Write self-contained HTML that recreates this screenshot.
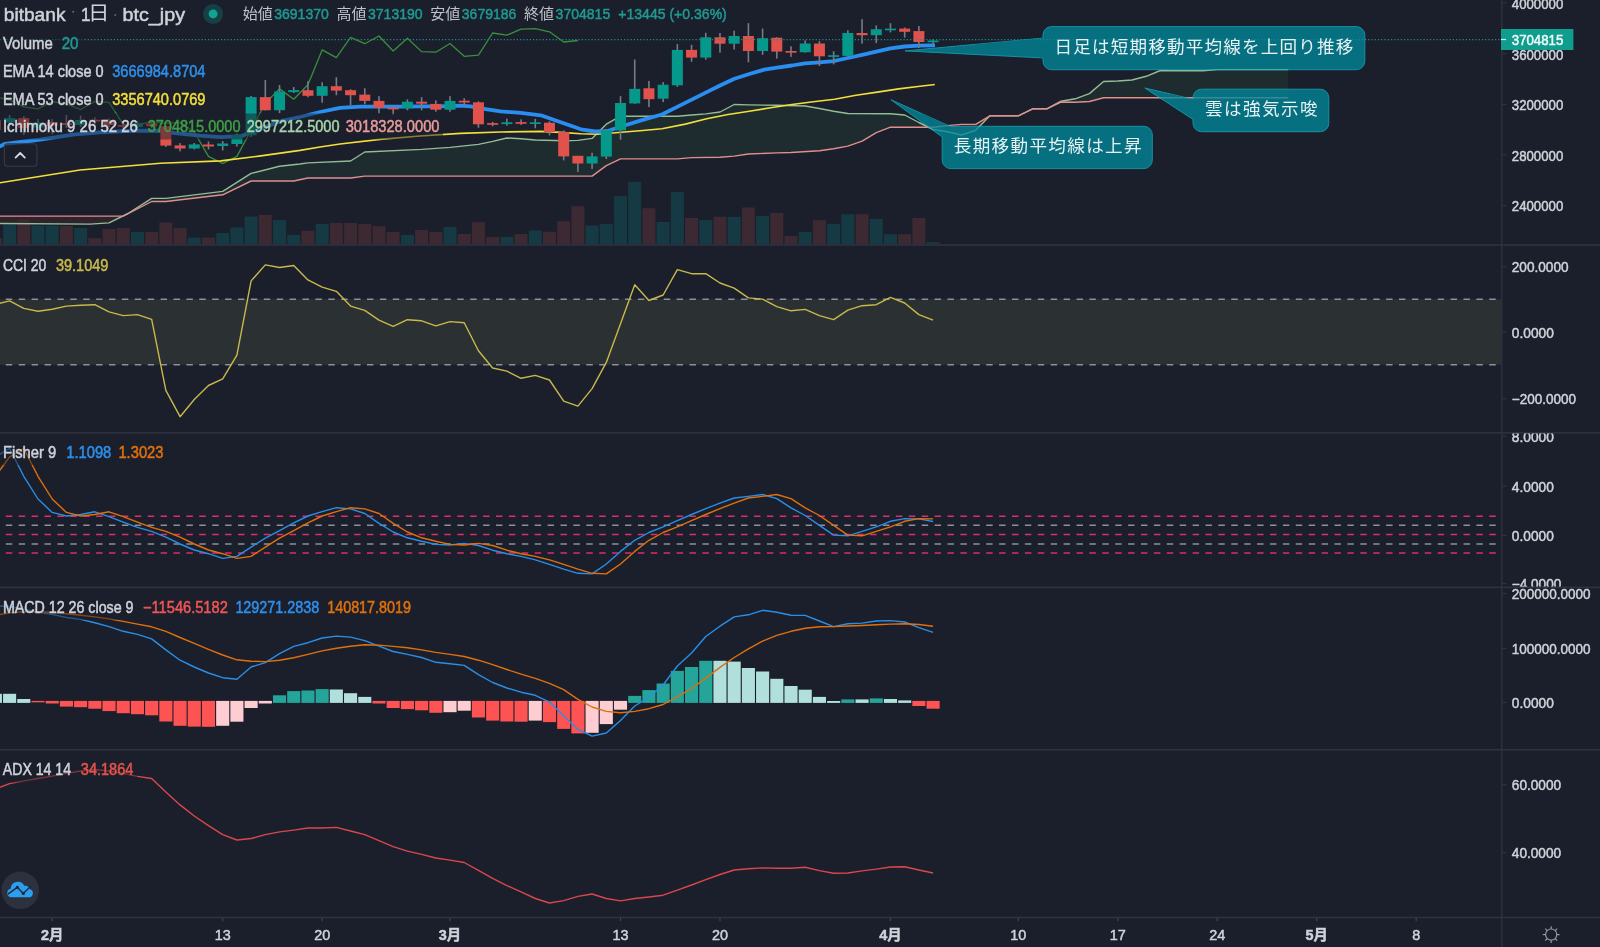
<!DOCTYPE html><html><head><meta charset="utf-8"><title>bitbank btc_jpy 1D</title>
<style>html,body{margin:0;padding:0;background:#1b1f2c;overflow:hidden}svg{display:block;will-change:transform}text{font-family:'Liberation Sans','Noto Sans CJK JP',sans-serif;white-space:pre}</style></head><body>
<svg width="1600" height="947" viewBox="0 0 1600 947">
<defs><clipPath id="cm"><rect x="0" y="0" width="1501" height="244.5"/></clipPath><clipPath id="cf"><rect x="1502" y="433.6" width="98" height="153"/></clipPath><clipPath id="cp"><rect x="0" y="0" width="1501" height="917"/></clipPath></defs>
<rect width="1600" height="947" fill="#1b1f2c"/>
<g clip-path="url(#cm)">
<path fill="#1e2b2f" d="M122.74 216.1L123.2 215.87L123.2 216.1L122.74 216.1ZM123.2 215.87L128 213.5L128 213.64L123.2 216.1ZM128 213.5L151.7 198.4L151.7 201.5L128 213.64ZM151.7 198.4L165.9 198.4L165.9 201.5L151.7 201.5ZM165.9 198.4L222.7 191.4L222.7 194.8L165.9 201.5ZM222.7 191.4L251.1 173.4L251.1 181L222.7 194.8ZM251.1 173.4L279.5 166.3L279.5 181L251.1 181ZM279.5 166.3L293.7 164.71L293.7 181L279.5 181ZM293.7 164.71L300 164L300 179.67L293.7 181ZM300 164L307.9 162.9L307.9 178L300 179.67ZM307.9 162.9L350.6 161L350.6 178L307.9 178ZM350.6 161L364.8 152L364.8 176.1L350.6 178ZM364.8 152L421.6 149.4L421.6 176.1L364.8 176.1ZM421.6 149.4L450 147.4L450 176.1L421.6 176.1ZM450 147.4L478.4 144.4L478.4 176.1L450 176.1ZM478.4 144.4L492.7 141.4L492.7 176.1L478.4 176.1ZM492.7 141.4L506.9 138L506.9 176.1L492.7 176.1ZM506.9 138L521.1 138.8L521.1 176.1L506.9 176.1ZM521.1 138.8L535.3 140L535.3 176.1L521.1 176.1ZM535.3 140L563.7 140.8L563.7 176.1L535.3 176.1ZM563.7 140.8L577.9 140.4L577.9 176.1L563.7 176.1ZM577.9 140.4L592.1 138.4L592.1 176.1L577.9 176.1ZM592.1 138.4L606.3 124.2L606.3 165.6L592.1 176.1ZM606.3 124.2L620.5 116.2L620.5 158.9L606.3 165.6ZM620.5 116.2L677.4 116.2L677.4 158.9L620.5 158.9ZM677.4 116.2L691.6 115L691.6 157.6L677.4 158.9ZM691.6 115L705.8 113.9L705.8 157.4L691.6 157.6ZM705.8 113.9L720 112L720 157.2L705.8 157.4ZM720 112L734.2 104.5L734.2 156.1L720 157.2ZM734.2 104.5L748.4 104.9L748.4 154L734.2 156.1ZM748.4 104.9L776.8 105.3L776.8 152.9L748.4 154ZM776.8 105.3L791 105.65L791 152.5L776.8 152.9ZM791 105.65L805.2 106L805.2 151.65L791 152.5ZM805.2 106L819.4 108.5L819.4 150.8L805.2 151.65ZM819.4 108.5L833.6 111.3L833.6 148.7L819.4 150.8ZM833.6 111.3L847.8 113.5L847.8 146.1L833.6 148.7ZM847.8 113.5L862.1 113.57L862.1 141.2L847.8 146.1ZM862.1 113.57L876.3 113.63L876.3 132.7L862.1 141.2ZM876.3 113.63L890.5 113.7L890.5 127.2L876.3 132.7ZM890.5 113.7L904.7 115L904.7 127.2L890.5 127.2ZM904.7 115L918.9 122.5L918.9 127.2L904.7 127.2ZM918.9 122.5L928.43 127.2L928.43 127.2L918.9 127.2ZM1046.8 108.8L1061 101.2L1061 102L1046.8 108.8ZM1061 101.2L1075.2 98.8L1075.2 102.3L1061 102ZM1075.2 98.8L1089.4 93.6L1089.4 101.5L1075.2 102.3ZM1089.4 93.6L1103.6 81.5L1103.6 97.7L1089.4 101.5ZM1103.6 81.5L1117.8 81L1117.8 97.7L1103.6 97.7ZM1117.8 81L1132 80L1132 97.7L1117.8 97.7ZM1132 80L1146.2 76.3L1146.2 97.7L1132 97.7ZM1146.2 76.3L1160.4 70.5L1160.4 97.7L1146.2 97.7ZM1160.4 70.5L1174.6 70.8L1174.6 97.7L1160.4 97.7ZM1174.6 70.8L1203.1 70.8L1203.1 97.7L1174.6 97.7ZM1203.1 70.8L1217.3 69.6L1217.3 97.7L1203.1 97.7ZM1217.3 69.6L1288.3 69.6L1288.3 97.7L1217.3 97.7Z"/>
<path fill="#30232d" d="M-5 223.5L0 223.5L0 216.1L-5 216.1ZM0 223.5L90 224.1L90 216.1L0 216.1ZM90 224.1L109 222.9L109 216.1L90 216.1ZM109 222.9L122.74 216.1L122.74 216.1L109 216.1ZM928.43 127.2L933.1 129.5L933.1 127.2L928.43 127.2ZM933.1 129.5L947.3 131.7L947.3 125.6L933.1 127.2ZM947.3 131.7L961.5 135L961.5 124.4L947.3 125.6ZM961.5 135L975.7 130.3L975.7 124.4L961.5 124.4ZM975.7 130.3L989.9 115.8L989.9 115.8L975.7 124.4ZM989.9 115.8L1018.3 115.8L1018.3 115.8L989.9 115.8ZM1018.3 115.8L1032.6 108.8L1032.6 108.8L1018.3 115.8ZM1032.6 108.8L1046.8 108.8L1046.8 108.8L1032.6 108.8Z"/>
<rect x="-11.13" y="238" width="13" height="6.3" fill="#3d2932"/>
<rect x="3.08" y="224.5" width="13" height="19.8" fill="#163a43"/>
<rect x="17.28" y="219.5" width="13" height="24.8" fill="#3d2932"/>
<rect x="31.49" y="225.5" width="13" height="18.8" fill="#163a43"/>
<rect x="45.7" y="225.5" width="13" height="18.8" fill="#163a43"/>
<rect x="59.91" y="226" width="13" height="18.3" fill="#3d2932"/>
<rect x="74.12" y="228" width="13" height="16.3" fill="#163a43"/>
<rect x="88.32" y="238.2" width="13" height="6.1" fill="#3d2932"/>
<rect x="102.53" y="229" width="13" height="15.3" fill="#3d2932"/>
<rect x="116.74" y="228" width="13" height="16.3" fill="#3d2932"/>
<rect x="130.95" y="232" width="13" height="12.3" fill="#163a43"/>
<rect x="145.16" y="232" width="13" height="12.3" fill="#3d2932"/>
<rect x="159.36" y="222.5" width="13" height="21.8" fill="#3d2932"/>
<rect x="173.57" y="228" width="13" height="16.3" fill="#3d2932"/>
<rect x="187.78" y="237.6" width="13" height="6.7" fill="#163a43"/>
<rect x="201.99" y="237.6" width="13" height="6.7" fill="#3d2932"/>
<rect x="216.2" y="233" width="13" height="11.3" fill="#163a43"/>
<rect x="230.4" y="227.5" width="13" height="16.8" fill="#163a43"/>
<rect x="244.61" y="216.5" width="13" height="27.8" fill="#163a43"/>
<rect x="258.82" y="214.9" width="13" height="29.4" fill="#3d2932"/>
<rect x="273.03" y="220" width="13" height="24.3" fill="#163a43"/>
<rect x="287.24" y="235" width="13" height="9.3" fill="#163a43"/>
<rect x="301.44" y="230.8" width="13" height="13.5" fill="#3d2932"/>
<rect x="315.65" y="224" width="13" height="20.3" fill="#163a43"/>
<rect x="329.86" y="223" width="13" height="21.3" fill="#3d2932"/>
<rect x="344.07" y="223" width="13" height="21.3" fill="#3d2932"/>
<rect x="358.28" y="224" width="13" height="20.3" fill="#3d2932"/>
<rect x="372.48" y="226.2" width="13" height="18.1" fill="#3d2932"/>
<rect x="386.69" y="232" width="13" height="12.3" fill="#3d2932"/>
<rect x="400.9" y="235" width="13" height="9.3" fill="#163a43"/>
<rect x="415.11" y="230" width="13" height="14.3" fill="#3d2932"/>
<rect x="429.32" y="232" width="13" height="12.3" fill="#3d2932"/>
<rect x="443.52" y="227" width="13" height="17.3" fill="#163a43"/>
<rect x="457.73" y="234" width="13" height="10.3" fill="#3d2932"/>
<rect x="471.94" y="222.2" width="13" height="22.1" fill="#3d2932"/>
<rect x="486.15" y="237" width="13" height="7.3" fill="#3d2932"/>
<rect x="500.36" y="236.8" width="13" height="7.5" fill="#163a43"/>
<rect x="514.56" y="234" width="13" height="10.3" fill="#3d2932"/>
<rect x="528.77" y="230.5" width="13" height="13.8" fill="#163a43"/>
<rect x="542.98" y="231.8" width="13" height="12.5" fill="#3d2932"/>
<rect x="557.19" y="221.2" width="13" height="23.1" fill="#3d2932"/>
<rect x="571.4" y="206.2" width="13" height="38.1" fill="#3d2932"/>
<rect x="585.6" y="225.5" width="13" height="18.8" fill="#163a43"/>
<rect x="599.81" y="223.8" width="13" height="20.5" fill="#163a43"/>
<rect x="614.02" y="196" width="13" height="48.3" fill="#163a43"/>
<rect x="628.23" y="181.8" width="13" height="62.5" fill="#163a43"/>
<rect x="642.44" y="208.2" width="13" height="36.1" fill="#3d2932"/>
<rect x="656.64" y="222" width="13" height="22.3" fill="#163a43"/>
<rect x="670.85" y="192" width="13" height="52.3" fill="#163a43"/>
<rect x="685.06" y="218" width="13" height="26.3" fill="#3d2932"/>
<rect x="699.27" y="220" width="13" height="24.3" fill="#163a43"/>
<rect x="713.48" y="216.8" width="13" height="27.5" fill="#3d2932"/>
<rect x="727.68" y="216.8" width="13" height="27.5" fill="#163a43"/>
<rect x="741.89" y="207.5" width="13" height="36.8" fill="#3d2932"/>
<rect x="756.1" y="215.8" width="13" height="28.5" fill="#163a43"/>
<rect x="770.31" y="213" width="13" height="31.3" fill="#3d2932"/>
<rect x="784.52" y="236" width="13" height="8.3" fill="#3d2932"/>
<rect x="798.72" y="232" width="13" height="12.3" fill="#163a43"/>
<rect x="812.93" y="220.2" width="13" height="24.1" fill="#3d2932"/>
<rect x="827.14" y="223.8" width="13" height="20.5" fill="#163a43"/>
<rect x="841.35" y="214.2" width="13" height="30.1" fill="#163a43"/>
<rect x="855.56" y="214.2" width="13" height="30.1" fill="#3d2932"/>
<rect x="869.76" y="219" width="13" height="25.3" fill="#163a43"/>
<rect x="883.97" y="234.2" width="13" height="10.1" fill="#163a43"/>
<rect x="898.18" y="234.2" width="13" height="10.1" fill="#3d2932"/>
<rect x="912.39" y="218" width="13" height="26.3" fill="#3d2932"/>
<rect x="926.6" y="242.2" width="13" height="2.1" fill="#163a43"/>
<polyline fill="none" stroke="#93bd95" stroke-width="1.4" stroke-linejoin="round" points="-5,223.5 0,223.5 90,224.1 109,222.9 128,213.5 151.7,198.4 165.9,198.4 222.7,191.4 251.1,173.4 279.5,166.3 300,164 307.9,162.9 350.6,161 364.8,152 421.6,149.4 450,147.4 478.4,144.4 492.7,141.4 506.9,138 521.1,138.8 535.3,140 563.7,140.8 577.9,140.4 592.1,138.4 606.3,124.2 620.5,116.2 677.4,116.2 691.6,115 705.8,113.9 720,112 734.2,104.5 748.4,104.9 776.8,105.3 805.2,106 819.4,108.5 833.6,111.3 847.8,113.5 890.5,113.7 904.7,115 918.9,122.5 933.1,129.5 947.3,131.7 961.5,135 975.7,130.3 989.9,115.8 1018.3,115.8 1032.6,108.8 1046.8,108.8 1061,101.2 1075.2,98.8 1089.4,93.6 1103.6,81.5 1117.8,81 1132,80 1146.2,76.3 1160.4,70.5 1174.6,70.8 1203.1,70.8 1217.3,69.6 1288.3,69.6"/>
<polyline fill="none" stroke="#e08e8e" stroke-width="1.4" stroke-linejoin="round" points="-5,216.1 0,216.1 123.2,216.1 151.7,201.5 165.9,201.5 222.7,194.8 251.1,181 293.7,181 307.9,178 350.6,178 364.8,176.1 592.1,176.1 606.3,165.6 620.5,158.9 677.4,158.9 691.6,157.6 720,157.2 734.2,156.1 748.4,154 776.8,152.9 791,152.5 819.4,150.8 833.6,148.7 847.8,146.1 862.1,141.2 876.3,132.7 890.5,127.2 933.1,127.2 947.3,125.6 961.5,124.4 975.7,124.4 989.9,115.8 1018.3,115.8 1032.6,108.8 1046.8,108.8 1061,102 1075.2,102.3 1089.4,101.5 1103.6,97.7 1288.3,97.7"/>
<polyline fill="none" stroke="#3a8f3e" stroke-width="1.3" stroke-linejoin="round" points="-18.84,93.5 -4.63,96.8 9.58,100 23.78,106.8 37.99,108.8 52.2,101.5 66.41,104 80.62,109.5 94.82,101.5 109.03,102.3 123.24,124.3 137.45,124.1 151.66,122.3 165.86,123.3 180.07,122.3 194.28,132 208.49,156.4 222.7,163.5 236.9,156.4 251.11,130.2 265.32,103 279.53,88.9 293.74,99.2 307.94,84.7 322.15,49.9 336.36,57.6 350.57,37.3 364.78,43.7 378.98,36 393.19,51 407.4,38.2 421.61,51.6 435.82,52.2 450.02,43.5 464.23,56.3 478.44,55.2 492.65,33 506.86,35.2 521.06,29.2 535.27,28.6 549.48,31.8 563.69,42 577.9,40.5"/>
<polyline fill="none" stroke="#f3df3a" stroke-width="1.6" stroke-linejoin="round" points="-5,183.6 0,182.8 80,170 160.5,163.3 220.7,160.9 260.8,155.9 300,150.4 320,147 340,144 380,139.4 420,136 460.5,133.4 500.6,132 540.8,131.4 560.8,132.4 580.9,133.8 597,134.2 610,133.3 621.3,132.2 642.7,130.5 661.9,128.8 685.3,124.1 706.7,118.8 728,114.5 749.3,111.3 770.6,107.7 792,104.5 813.3,101.7 834.6,99.2 856,95.3 877.3,92.1 898.6,88.9 920,86.2 933.1,84.7 934.8,84.5"/>
<polyline fill="none" stroke="#2a8ef0" stroke-width="3.8" stroke-linejoin="round" stroke-linecap="butt" points="-5,147.5 0,146.3 5,143.8 25,141.5 40,139.7 50,138.1 75,134.4 100,132.3 125,131 150,130.6 162,131 175,133.1 200,135.6 221,137.2 241,136.2 261,128.2 281,121.2 300,117 320,112 340,107.9 360,106.7 380,106.7 400,106.7 420,106.3 440,106.3 460.5,105.7 470.5,106.3 480.6,108.3 500.6,111.3 520.7,112.9 540.8,115.3 560.8,122.3 580.9,129.3 595,131.5 607,131.2 621.3,126.5 642.7,119.9 661.9,114.5 674.7,108.1 691.7,99.6 706.7,92.1 719.5,85.7 734.4,78.7 749.3,74 764.2,69.7 777,67.6 792,65.5 804.8,63.3 819.7,62.3 833.6,61.2 847.9,58 862.2,54.8 876.2,51.6 890.5,48.4 904.6,46.5 918.9,45.7 933.1,45.4 935,45.4"/>
<rect x="-5.43" y="118" width="1.6" height="14" fill="#787b86"/>
<rect x="-10.13" y="120" width="11" height="10" fill="#e0524b"/>
<rect x="8.78" y="115" width="1.6" height="11" fill="#787b86"/>
<rect x="4.08" y="118.1" width="11" height="4.4" fill="#05998b"/>
<rect x="22.98" y="116" width="1.6" height="19" fill="#787b86"/>
<rect x="18.28" y="118.1" width="11" height="10" fill="#e0524b"/>
<rect x="37.19" y="119" width="1.6" height="11" fill="#787b86"/>
<rect x="32.49" y="122.5" width="11" height="5" fill="#05998b"/>
<rect x="51.4" y="119" width="1.6" height="15.4" fill="#787b86"/>
<rect x="46.7" y="122" width="11" height="4" fill="#e0524b"/>
<rect x="65.61" y="115" width="1.6" height="13" fill="#787b86"/>
<rect x="60.91" y="123" width="11" height="2" fill="#e0524b"/>
<rect x="79.82" y="115.6" width="1.6" height="11.4" fill="#787b86"/>
<rect x="75.12" y="120" width="11" height="5" fill="#05998b"/>
<rect x="94.02" y="117.3" width="1.6" height="6.7" fill="#787b86"/>
<rect x="89.32" y="119.7" width="11" height="1.8" fill="#e0524b"/>
<rect x="108.23" y="118.5" width="1.6" height="8.5" fill="#787b86"/>
<rect x="103.53" y="121.3" width="11" height="3.7" fill="#e0524b"/>
<rect x="122.44" y="122" width="1.6" height="7" fill="#787b86"/>
<rect x="117.74" y="125" width="11" height="1.7" fill="#e0524b"/>
<rect x="136.65" y="121" width="1.6" height="7.5" fill="#787b86"/>
<rect x="131.95" y="123.7" width="11" height="3.2" fill="#05998b"/>
<rect x="150.86" y="122" width="1.6" height="6" fill="#787b86"/>
<rect x="146.16" y="123.7" width="11" height="2.6" fill="#e0524b"/>
<rect x="165.06" y="125" width="1.6" height="21.9" fill="#787b86"/>
<rect x="160.36" y="126.3" width="11" height="19.3" fill="#e0524b"/>
<rect x="179.27" y="143.1" width="1.6" height="8.2" fill="#787b86"/>
<rect x="174.57" y="145.4" width="11" height="3.1" fill="#e0524b"/>
<rect x="193.48" y="143" width="1.6" height="6.4" fill="#787b86"/>
<rect x="188.78" y="144.4" width="11" height="4.1" fill="#05998b"/>
<rect x="207.69" y="141.5" width="1.6" height="8" fill="#787b86"/>
<rect x="202.99" y="144.5" width="11" height="2" fill="#e0524b"/>
<rect x="221.9" y="141" width="1.6" height="9.5" fill="#787b86"/>
<rect x="217.2" y="143.5" width="11" height="2.5" fill="#05998b"/>
<rect x="236.1" y="133.5" width="1.6" height="13" fill="#787b86"/>
<rect x="231.4" y="135" width="11" height="9" fill="#05998b"/>
<rect x="250.31" y="96" width="1.6" height="41" fill="#787b86"/>
<rect x="245.61" y="97.1" width="11" height="38.1" fill="#05998b"/>
<rect x="264.52" y="80" width="1.6" height="30.5" fill="#787b86"/>
<rect x="259.82" y="97.1" width="11" height="13.1" fill="#e0524b"/>
<rect x="278.73" y="85" width="1.6" height="28.2" fill="#787b86"/>
<rect x="274.03" y="91.5" width="11" height="18.7" fill="#05998b"/>
<rect x="292.94" y="87" width="1.6" height="6" fill="#787b86"/>
<rect x="288.24" y="90.1" width="11" height="2" fill="#05998b"/>
<rect x="307.14" y="81.2" width="1.6" height="16" fill="#787b86"/>
<rect x="302.44" y="90.2" width="11" height="5.6" fill="#e0524b"/>
<rect x="321.35" y="82.2" width="1.6" height="20.5" fill="#787b86"/>
<rect x="316.65" y="86.2" width="11" height="9.6" fill="#05998b"/>
<rect x="335.56" y="77.2" width="1.6" height="18" fill="#787b86"/>
<rect x="330.86" y="86.2" width="11" height="4.4" fill="#e0524b"/>
<rect x="349.77" y="89.2" width="1.6" height="16.1" fill="#787b86"/>
<rect x="345.07" y="90.2" width="11" height="5" fill="#e0524b"/>
<rect x="363.98" y="88.2" width="1.6" height="16.1" fill="#787b86"/>
<rect x="359.28" y="94.6" width="11" height="6.3" fill="#e0524b"/>
<rect x="378.18" y="96.2" width="1.6" height="17.1" fill="#787b86"/>
<rect x="373.48" y="100.9" width="11" height="6.8" fill="#e0524b"/>
<rect x="392.39" y="106.3" width="1.6" height="8.4" fill="#787b86"/>
<rect x="387.69" y="107.7" width="11" height="1.7" fill="#e0524b"/>
<rect x="406.6" y="99.3" width="1.6" height="11" fill="#787b86"/>
<rect x="401.9" y="101.7" width="11" height="6.6" fill="#05998b"/>
<rect x="420.81" y="97.2" width="1.6" height="13.1" fill="#787b86"/>
<rect x="416.11" y="101.7" width="11" height="2" fill="#e0524b"/>
<rect x="435.02" y="100.3" width="1.6" height="11.4" fill="#787b86"/>
<rect x="430.32" y="103.9" width="11" height="5.8" fill="#e0524b"/>
<rect x="449.22" y="96.2" width="1.6" height="15.5" fill="#787b86"/>
<rect x="444.52" y="100.9" width="11" height="8.8" fill="#05998b"/>
<rect x="463.43" y="98.2" width="1.6" height="8.5" fill="#787b86"/>
<rect x="458.73" y="100.7" width="11" height="1.8" fill="#e0524b"/>
<rect x="477.64" y="101.3" width="1.6" height="26.4" fill="#787b86"/>
<rect x="472.94" y="102.3" width="11" height="22" fill="#e0524b"/>
<rect x="491.85" y="121.9" width="1.6" height="4.4" fill="#787b86"/>
<rect x="487.15" y="123.1" width="11" height="1.7" fill="#e0524b"/>
<rect x="506.06" y="118.7" width="1.6" height="7" fill="#787b86"/>
<rect x="501.36" y="122.3" width="11" height="1.8" fill="#05998b"/>
<rect x="520.26" y="119.3" width="1.6" height="5.6" fill="#787b86"/>
<rect x="515.56" y="122.1" width="11" height="1.7" fill="#e0524b"/>
<rect x="534.47" y="118.9" width="1.6" height="9.4" fill="#787b86"/>
<rect x="529.77" y="122.3" width="11" height="1.7" fill="#05998b"/>
<rect x="548.68" y="121.3" width="1.6" height="14.1" fill="#787b86"/>
<rect x="543.98" y="122.7" width="11" height="9.3" fill="#e0524b"/>
<rect x="562.89" y="130.4" width="1.6" height="30" fill="#787b86"/>
<rect x="558.19" y="132" width="11" height="24.4" fill="#e0524b"/>
<rect x="577.1" y="155.8" width="1.6" height="16.1" fill="#787b86"/>
<rect x="572.4" y="155.8" width="11" height="7.7" fill="#e0524b"/>
<rect x="591.3" y="152.8" width="1.6" height="16.1" fill="#787b86"/>
<rect x="586.6" y="156.4" width="11" height="7.1" fill="#05998b"/>
<rect x="605.51" y="129" width="1.6" height="30" fill="#787b86"/>
<rect x="600.81" y="130.2" width="11" height="26.4" fill="#05998b"/>
<rect x="619.72" y="96.1" width="1.6" height="43.6" fill="#787b86"/>
<rect x="615.02" y="103" width="11" height="27.4" fill="#05998b"/>
<rect x="633.93" y="59.5" width="1.6" height="44.4" fill="#787b86"/>
<rect x="629.23" y="88.9" width="11" height="14.5" fill="#05998b"/>
<rect x="648.14" y="81" width="1.6" height="26.1" fill="#787b86"/>
<rect x="643.44" y="88.3" width="11" height="10.9" fill="#e0524b"/>
<rect x="662.34" y="82.1" width="1.6" height="20" fill="#787b86"/>
<rect x="657.64" y="84.7" width="11" height="14" fill="#05998b"/>
<rect x="676.55" y="44.1" width="1.6" height="42.7" fill="#787b86"/>
<rect x="671.85" y="49.9" width="11" height="35.4" fill="#05998b"/>
<rect x="690.76" y="44.8" width="1.6" height="17" fill="#787b86"/>
<rect x="686.06" y="49.9" width="11" height="7.7" fill="#e0524b"/>
<rect x="704.97" y="32.8" width="1.6" height="26.9" fill="#787b86"/>
<rect x="700.27" y="37.3" width="11" height="20.3" fill="#05998b"/>
<rect x="719.18" y="33" width="1.6" height="19.7" fill="#787b86"/>
<rect x="714.48" y="37.3" width="11" height="6.4" fill="#e0524b"/>
<rect x="733.38" y="30.7" width="1.6" height="18.8" fill="#787b86"/>
<rect x="728.68" y="36" width="11" height="7.7" fill="#05998b"/>
<rect x="747.59" y="23.2" width="1.6" height="39.1" fill="#787b86"/>
<rect x="742.89" y="36" width="11" height="15" fill="#e0524b"/>
<rect x="761.8" y="28.6" width="1.6" height="26.2" fill="#787b86"/>
<rect x="757.1" y="38.2" width="11" height="12.8" fill="#05998b"/>
<rect x="776.01" y="37.3" width="1.6" height="21.3" fill="#787b86"/>
<rect x="771.31" y="37.7" width="11" height="13.9" fill="#e0524b"/>
<rect x="790.22" y="46.3" width="1.6" height="10.6" fill="#787b86"/>
<rect x="785.52" y="51" width="11" height="1.7" fill="#e0524b"/>
<rect x="804.42" y="40.5" width="1.6" height="12.2" fill="#787b86"/>
<rect x="799.72" y="43.5" width="11" height="8.7" fill="#05998b"/>
<rect x="818.63" y="40.9" width="1.6" height="25" fill="#787b86"/>
<rect x="813.93" y="43.5" width="11" height="12.8" fill="#e0524b"/>
<rect x="832.84" y="51.2" width="1.6" height="13.2" fill="#787b86"/>
<rect x="828.14" y="55.2" width="11" height="1.7" fill="#05998b"/>
<rect x="847.05" y="30.3" width="1.6" height="26.2" fill="#787b86"/>
<rect x="842.35" y="33" width="11" height="22.9" fill="#05998b"/>
<rect x="861.26" y="19.2" width="1.6" height="24.5" fill="#787b86"/>
<rect x="856.56" y="33" width="11" height="2.2" fill="#e0524b"/>
<rect x="875.46" y="25.4" width="1.6" height="17.7" fill="#787b86"/>
<rect x="870.76" y="29.2" width="11" height="6" fill="#05998b"/>
<rect x="889.67" y="23.2" width="1.6" height="9.2" fill="#787b86"/>
<rect x="884.97" y="28.6" width="11" height="1.7" fill="#05998b"/>
<rect x="903.88" y="27.5" width="1.6" height="10.2" fill="#787b86"/>
<rect x="899.18" y="28.6" width="11" height="3.2" fill="#e0524b"/>
<rect x="918.09" y="26" width="1.6" height="22" fill="#787b86"/>
<rect x="913.39" y="31.1" width="11" height="10.9" fill="#e0524b"/>
<rect x="932.3" y="39.4" width="1.6" height="4.3" fill="#787b86"/>
<rect x="927.6" y="40.5" width="11" height="1.7" fill="#05998b"/>
<line x1="0" y1="39.6" x2="1501" y2="39.6" stroke="#1f9087" stroke-width="1.1" stroke-dasharray="1.2 2.05"/>
</g>
<rect x="0" y="299.2" width="1501" height="65.6" fill="#2b3032"/>
<line x1="-7.1" y1="299.2" x2="1501" y2="299.2" stroke="#8d9099" stroke-width="1.5" stroke-dasharray="6.45 6.45"/>
<line x1="-7.1" y1="364.8" x2="1501" y2="364.8" stroke="#8d9099" stroke-width="1.5" stroke-dasharray="6.45 6.45"/>
<polyline fill="none" stroke="#c8b94b" stroke-width="1.4" stroke-linejoin="round" points="-4.63,304.5 9.58,300.9 23.78,308.4 37.99,311.3 52.2,309.2 66.41,306.1 80.62,305.3 94.82,304.7 109.03,311.9 123.24,315.6 137.45,314.6 151.66,319.3 165.86,390.3 180.07,416.7 194.28,399.5 208.49,385.5 222.7,378.9 236.9,355.2 251.11,280.9 265.32,264.9 279.53,267.5 293.74,265.5 307.94,279.9 322.15,287.1 336.36,291.3 350.57,306.1 364.78,310.4 378.98,320.1 393.19,326.3 407.4,319.7 421.61,320.8 435.82,325.9 450.02,321.6 464.23,322.8 478.44,350.7 492.65,368 506.86,371.1 521.06,378.3 535.27,375.4 549.48,380 563.69,401.2 577.9,406.1 592.1,388.6 606.31,362.4 620.52,323.8 634.73,284.7 648.94,300.5 663.14,295 677.35,269.6 691.56,273.7 705.77,273.7 719.98,283 734.18,288.2 748.39,297.9 762.6,299.1 776.81,306.7 791.02,310.8 805.22,309.4 819.43,315.6 833.64,319.7 847.85,310.2 862.06,305.7 876.26,304.7 890.47,297.4 904.68,303 918.89,314.6 933.1,320.1"/>
<line x1="-7.1" y1="516.2" x2="1501" y2="516.2" stroke="#dc2e69" stroke-width="1.5" stroke-dasharray="6.45 6.45"/>
<line x1="-7.1" y1="525.3" x2="1501" y2="525.3" stroke="#8d9099" stroke-width="1.5" stroke-dasharray="6.45 6.45"/>
<line x1="-7.1" y1="534.6" x2="1501" y2="534.6" stroke="#dc2e69" stroke-width="1.5" stroke-dasharray="6.45 6.45"/>
<line x1="-7.1" y1="543.9" x2="1501" y2="543.9" stroke="#8d9099" stroke-width="1.5" stroke-dasharray="6.45 6.45"/>
<line x1="-7.1" y1="553.1" x2="1501" y2="553.1" stroke="#dc2e69" stroke-width="1.5" stroke-dasharray="6.45 6.45"/>
<polyline fill="none" stroke="#2a8ee6" stroke-width="1.4" stroke-linejoin="round" points="-4.63,456.8 9.58,448.5 23.78,476.3 37.99,499 52.2,512.4 66.41,516 80.62,514.5 94.82,511.8 109.03,516.6 123.24,522.1 137.45,527.3 151.66,531.4 165.86,537.2 180.07,544 194.28,550 208.49,553.7 222.7,558.4 236.9,556.4 251.11,547.1 265.32,538.2 279.53,530.6 293.74,522.8 307.94,516 322.15,511.7 336.36,507.7 350.57,508.9 364.78,513.5 378.98,523.4 393.19,532 407.4,537.8 421.61,541.3 435.82,544.4 450.02,545 464.23,543.4 478.44,545.5 492.65,550.2 506.86,553.7 521.06,556.4 535.27,559.9 549.48,564.4 563.69,569.2 577.9,573.3 592.1,573.9 606.31,564 620.52,551.4 634.73,540.3 648.94,532.5 663.14,526.9 677.35,520.7 691.56,514.5 705.77,508.7 719.98,503.2 734.18,498 748.39,496.4 762.6,494.5 776.81,498.6 791.02,507.9 805.22,515.5 819.43,525.4 833.64,535.1 847.85,535.8 862.06,531.4 876.26,526.9 890.47,521.3 904.68,518.6 918.89,518.9 933.1,521.5"/>
<polyline fill="none" stroke="#e0700d" stroke-width="1.4" stroke-linejoin="round" points="-4.63,476.3 9.58,456.8 23.78,448.5 37.99,476.3 52.2,499 66.41,512.4 80.62,516 94.82,514.5 109.03,511.8 123.24,516.6 137.45,522.1 151.66,527.3 165.86,531.4 180.07,537.2 194.28,544 208.49,550 222.7,553.7 236.9,558.4 251.11,556.4 265.32,547.1 279.53,538.2 293.74,530.6 307.94,522.8 322.15,516 336.36,511.7 350.57,507.7 364.78,508.9 378.98,513.5 393.19,523.4 407.4,532 421.61,537.8 435.82,541.3 450.02,544.4 464.23,545 478.44,543.4 492.65,545.5 506.86,550.2 521.06,553.7 535.27,556.4 549.48,559.9 563.69,564.4 577.9,569.2 592.1,573.3 606.31,573.9 620.52,564 634.73,551.4 648.94,540.3 663.14,532.5 677.35,526.9 691.56,520.7 705.77,514.5 719.98,508.7 734.18,503.2 748.39,498 762.6,496.4 776.81,494.5 791.02,498.6 805.22,507.9 819.43,515.5 833.64,525.4 847.85,535.1 862.06,535.8 876.26,531.4 890.47,526.9 904.68,521.3 918.89,518.6 933.1,518.9"/>
<rect x="-11.18" y="693.8" width="13.1" height="9.1" fill="#b1dfdb"/>
<rect x="3.03" y="693.8" width="13.1" height="9.1" fill="#b1dfdb"/>
<rect x="17.23" y="699" width="13.1" height="3.9" fill="#b1dfdb"/>
<rect x="31.44" y="700.9" width="13.1" height="1.4" fill="#fd5353"/>
<rect x="45.65" y="700.9" width="13.1" height="2.6" fill="#fd5353"/>
<rect x="59.86" y="700.9" width="13.1" height="5.7" fill="#fd5353"/>
<rect x="74.07" y="700.9" width="13.1" height="6.3" fill="#fd5353"/>
<rect x="88.27" y="700.9" width="13.1" height="7.8" fill="#fd5353"/>
<rect x="102.48" y="700.9" width="13.1" height="10.2" fill="#fd5353"/>
<rect x="116.69" y="700.9" width="13.1" height="12.3" fill="#fd5353"/>
<rect x="130.9" y="700.9" width="13.1" height="13.3" fill="#fd5353"/>
<rect x="145.11" y="700.9" width="13.1" height="14.4" fill="#fd5353"/>
<rect x="159.31" y="700.9" width="13.1" height="20.6" fill="#fd5353"/>
<rect x="173.52" y="700.9" width="13.1" height="24.9" fill="#fd5353"/>
<rect x="187.73" y="700.9" width="13.1" height="25.7" fill="#fd5353"/>
<rect x="201.94" y="700.9" width="13.1" height="25.9" fill="#fd5353"/>
<rect x="216.15" y="700.9" width="13.1" height="24.9" fill="#fdcdd2"/>
<rect x="230.35" y="700.9" width="13.1" height="20.8" fill="#fdcdd2"/>
<rect x="244.56" y="700.9" width="13.1" height="7.1" fill="#fdcdd2"/>
<rect x="258.77" y="700.9" width="13.1" height="2.6" fill="#fdcdd2"/>
<rect x="272.98" y="695.3" width="13.1" height="7.6" fill="#25a499"/>
<rect x="287.19" y="691.1" width="13.1" height="11.8" fill="#25a499"/>
<rect x="301.39" y="690.5" width="13.1" height="12.4" fill="#25a499"/>
<rect x="315.6" y="689.1" width="13.1" height="13.8" fill="#25a499"/>
<rect x="329.81" y="689.5" width="13.1" height="13.4" fill="#b1dfdb"/>
<rect x="344.02" y="693.2" width="13.1" height="9.7" fill="#b1dfdb"/>
<rect x="358.23" y="696.9" width="13.1" height="6" fill="#b1dfdb"/>
<rect x="372.43" y="700.9" width="13.1" height="2.6" fill="#fd5353"/>
<rect x="386.64" y="700.9" width="13.1" height="7.1" fill="#fd5353"/>
<rect x="400.85" y="700.9" width="13.1" height="8.2" fill="#fd5353"/>
<rect x="415.06" y="700.9" width="13.1" height="9.4" fill="#fd5353"/>
<rect x="429.27" y="700.9" width="13.1" height="11.9" fill="#fd5353"/>
<rect x="443.47" y="700.9" width="13.1" height="11.3" fill="#fdcdd2"/>
<rect x="457.68" y="700.9" width="13.1" height="9.8" fill="#fdcdd2"/>
<rect x="471.89" y="700.9" width="13.1" height="16.6" fill="#fd5353"/>
<rect x="486.1" y="700.9" width="13.1" height="19.7" fill="#fd5353"/>
<rect x="500.31" y="700.9" width="13.1" height="20.6" fill="#fd5353"/>
<rect x="514.51" y="700.9" width="13.1" height="20.8" fill="#fd5353"/>
<rect x="528.72" y="700.9" width="13.1" height="19.7" fill="#fdcdd2"/>
<rect x="542.93" y="700.9" width="13.1" height="21.2" fill="#fd5353"/>
<rect x="557.14" y="700.9" width="13.1" height="28" fill="#fd5353"/>
<rect x="571.35" y="700.9" width="13.1" height="32.5" fill="#fd5353"/>
<rect x="585.55" y="700.9" width="13.1" height="31.9" fill="#fdcdd2"/>
<rect x="599.76" y="700.9" width="13.1" height="23.2" fill="#fdcdd2"/>
<rect x="613.97" y="700.9" width="13.1" height="8.8" fill="#fdcdd2"/>
<rect x="628.18" y="695.9" width="13.1" height="7" fill="#25a499"/>
<rect x="642.39" y="690.1" width="13.1" height="12.8" fill="#25a499"/>
<rect x="656.59" y="683.5" width="13.1" height="19.4" fill="#25a499"/>
<rect x="670.8" y="670.9" width="13.1" height="32" fill="#25a499"/>
<rect x="685.01" y="667" width="13.1" height="35.9" fill="#25a499"/>
<rect x="699.22" y="660.8" width="13.1" height="42.1" fill="#25a499"/>
<rect x="713.43" y="660.8" width="13.1" height="42.1" fill="#b1dfdb"/>
<rect x="727.63" y="661.6" width="13.1" height="41.3" fill="#b1dfdb"/>
<rect x="741.84" y="668" width="13.1" height="34.9" fill="#b1dfdb"/>
<rect x="756.05" y="671.5" width="13.1" height="31.4" fill="#b1dfdb"/>
<rect x="770.26" y="678.8" width="13.1" height="24.1" fill="#b1dfdb"/>
<rect x="784.47" y="686" width="13.1" height="16.9" fill="#b1dfdb"/>
<rect x="798.67" y="689.7" width="13.1" height="13.2" fill="#b1dfdb"/>
<rect x="812.88" y="696.9" width="13.1" height="6" fill="#b1dfdb"/>
<rect x="827.09" y="701" width="13.1" height="1.9" fill="#b1dfdb"/>
<rect x="841.3" y="699.4" width="13.1" height="3.5" fill="#25a499"/>
<rect x="855.51" y="699.4" width="13.1" height="3.5" fill="#b1dfdb"/>
<rect x="869.71" y="698.4" width="13.1" height="4.5" fill="#25a499"/>
<rect x="883.92" y="699" width="13.1" height="3.9" fill="#b1dfdb"/>
<rect x="898.13" y="700.4" width="13.1" height="2.5" fill="#b1dfdb"/>
<rect x="912.34" y="700.9" width="13.1" height="5.1" fill="#fd5353"/>
<rect x="926.55" y="700.9" width="13.1" height="7.8" fill="#fd5353"/>
<polyline fill="none" stroke="#2a8ee6" stroke-width="1.4" stroke-linejoin="round" points="-4.63,605.7 9.58,606.8 23.78,609.2 37.99,612.3 52.2,614.4 66.41,617.5 80.62,619.4 94.82,622.7 109.03,626.6 123.24,631.3 137.45,634.4 151.66,638.9 165.86,649.9 180.07,660.2 194.28,667 208.49,673 222.7,677.7 236.9,679.2 251.11,667 265.32,662.7 279.53,653.6 293.74,646.4 307.94,642.7 322.15,638 336.36,636.1 350.57,637.1 364.78,640.6 378.98,646.2 393.19,651.5 407.4,654.4 421.61,657.5 435.82,662.3 450.02,663.7 464.23,665.4 478.44,674.6 492.65,682.5 506.86,688 521.06,692.2 535.27,695.3 549.48,702.1 563.69,715.9 577.9,729.3 592.1,736.1 606.31,733 620.52,720.5 634.73,706 648.94,697.3 663.14,685 677.35,666 691.56,653 705.77,636.5 719.98,626.2 734.18,616.9 748.39,614.8 762.6,610.3 776.81,612.3 791.02,615.2 805.22,615.4 819.43,621 833.64,626.6 847.85,623.7 862.06,623.1 876.26,621 890.47,620.6 904.68,622 918.89,627.6 933.1,632.3"/>
<polyline fill="none" stroke="#e0700d" stroke-width="1.4" stroke-linejoin="round" points="-4.63,615.2 9.58,612.8 23.78,611.7 37.99,611.7 52.2,612.3 66.41,613.8 80.62,615.2 94.82,616.9 109.03,618.9 123.24,621.4 137.45,624.1 151.66,626.8 165.86,631.3 180.07,637.5 194.28,643.3 208.49,649.3 222.7,655 236.9,659.8 251.11,661.2 265.32,661.6 279.53,660.2 293.74,657.7 307.94,654.4 322.15,650.9 336.36,648.2 350.57,646.2 364.78,644.7 378.98,645.1 393.19,646.4 407.4,647.8 421.61,649.9 435.82,652.4 450.02,654.4 464.23,656.5 478.44,660.2 492.65,664.7 506.86,669.5 521.06,674.2 535.27,678.3 549.48,683.3 563.69,689.7 577.9,699.4 592.1,707 606.31,711.4 620.52,712.8 634.73,711.4 648.94,708.7 663.14,704.5 677.35,696.9 691.56,688.5 705.77,678.1 719.98,667.4 734.18,657.5 748.39,648.8 762.6,641.2 776.81,635.4 791.02,631.3 805.22,628.2 819.43,626.8 833.64,626.6 847.85,626 862.06,625.5 876.26,624.7 890.47,624.1 904.68,623.7 918.89,624.5 933.1,626.2"/>
<polyline fill="none" stroke="#d9474c" stroke-width="1.4" stroke-linejoin="round" points="-4.63,789 9.58,783.6 23.78,780.9 37.99,778.5 52.2,776.1 66.41,773.4 80.62,771 94.82,769.5 109.03,771 123.24,773.4 137.45,776.4 151.66,778.5 165.86,792 180.07,804.9 194.28,816 208.49,825.6 222.7,834.6 236.9,840 251.11,838.5 265.32,834.6 279.53,831.9 293.74,830.1 307.94,828 322.15,828 336.36,827.4 350.57,831 364.78,834.6 378.98,840.6 393.19,846.6 407.4,851.1 421.61,854.4 435.82,858 450.02,860.1 464.23,862.5 478.44,870.4 492.65,878.4 506.86,885.6 521.06,891.9 535.27,898.5 549.48,903 563.69,900.6 577.9,896.4 592.1,894 606.31,898.5 620.52,900.9 634.73,898.5 648.94,897 663.14,895.2 677.35,890.1 691.56,885 705.77,879.6 719.98,874.5 734.18,870 748.39,868.8 762.6,867.9 776.81,868.2 791.02,868.2 805.22,867.3 819.43,870.6 833.64,873.3 847.85,873 862.06,870.9 876.26,869.1 890.47,867 904.68,866.7 918.89,870 933.1,873"/>
<g opacity="0.76">
<path d="M1044 38L905 50.9L1044 58Z" fill="#008a9c" stroke="#14b4ca" stroke-width="1" stroke-linejoin="round"/>
<rect x="1043" y="26.6" width="321.8" height="43.1" rx="8.5" fill="#008a9c" stroke="#14b4ca" stroke-width="1"/>
<path d="M1044 38L974.5 44.45L1044 58Z" fill="#008a9c"/>
</g>
<text x="1054.6" y="53" font-size="17.6" fill="#e6f1f3" stroke="#e6f1f3" stroke-width="0" textLength="298.8" lengthAdjust="spacing">日足は短期移動平均線を上回り推移</text>
<g opacity="0.76">
<path d="M1194 99.5L1144.8 88L1194 120Z" fill="#008a9c" stroke="#14b4ca" stroke-width="1" stroke-linejoin="round"/>
<rect x="1193" y="89.2" width="135.8" height="42.5" rx="8.5" fill="#008a9c" stroke="#14b4ca" stroke-width="1"/>
<path d="M1194 99.5L1169.4 93.75L1194 120Z" fill="#008a9c"/>
</g>
<text x="1205" y="115.3" font-size="17.6" fill="#e6f1f3" stroke="#e6f1f3" stroke-width="0" textLength="112.6" lengthAdjust="spacing">雲は強気示唆</text>
<g opacity="0.76">
<path d="M951.5 127L890.9 99.7L943 137.5Z" fill="#008a9c" stroke="#14b4ca" stroke-width="1" stroke-linejoin="round"/>
<rect x="942.2" y="126.3" width="210.1" height="42.3" rx="8.5" fill="#008a9c" stroke="#14b4ca" stroke-width="1"/>
<path d="M951.5 127L921.2 113.35L943 137.5Z" fill="#008a9c"/>
</g>
<text x="953.8" y="151.5" font-size="17.6" fill="#e6f1f3" stroke="#e6f1f3" stroke-width="0" textLength="187.8" lengthAdjust="spacing">長期移動平均線は上昇</text>
<rect x="0" y="2" width="190" height="26" fill="#1b1f2c" opacity="0.5"/>
<rect x="0" y="30" width="84" height="26" fill="#1b1f2c" opacity="0.5"/>
<rect x="0" y="58" width="209" height="26" fill="#1b1f2c" opacity="0.5"/>
<rect x="0" y="85.5" width="209" height="26" fill="#1b1f2c" opacity="0.5"/>
<rect x="0" y="113.5" width="443" height="26" fill="#1b1f2c" opacity="0.5"/>
<rect x="0" y="252" width="112" height="26" fill="#1b1f2c" opacity="0.5"/>
<rect x="0" y="439" width="167" height="26" fill="#1b1f2c" opacity="0.5"/>
<rect x="0" y="594" width="415" height="26" fill="#1b1f2c" opacity="0.5"/>
<rect x="0" y="756.5" width="137" height="26" fill="#1b1f2c" opacity="0.5"/>
<text x="3.75" y="20.52" font-size="19" fill="#cfd2d9" stroke="#cfd2d9" stroke-width="0.5" textLength="61.75" lengthAdjust="spacingAndGlyphs">bitbank</text>
<circle cx="73.2" cy="11.8" r="1.1" fill="#5d616d"/><circle cx="115.2" cy="15" r="1.1" fill="#5d616d"/>
<text x="81" y="20.52" font-size="19" fill="#cfd2d9" stroke="#cfd2d9" stroke-width="0.5" textLength="9.5" lengthAdjust="spacingAndGlyphs">1</text>
<text x="88.1" y="19.7" font-size="19.5" fill="#cfd2d9" textLength="21.4" lengthAdjust="spacingAndGlyphs">日</text>
<text x="122.5" y="20.52" font-size="19" fill="#cfd2d9" stroke="#cfd2d9" stroke-width="0.5" textLength="62.5" lengthAdjust="spacingAndGlyphs">btc_jpy</text>
<circle cx="213.1" cy="13.9" r="10" fill="#173f46"/><circle cx="213.1" cy="13.9" r="4.5" fill="#0fa394"/>
<text x="242.7" y="19.27" font-size="15" fill="#bfc2ca" stroke="#bfc2ca" stroke-width="0" textLength="30" lengthAdjust="spacingAndGlyphs">始値</text>
<text x="274.2" y="19.27" font-size="15" fill="#1e9a91" stroke="#1e9a91" stroke-width="0.5" textLength="54.6" lengthAdjust="spacingAndGlyphs">3691370</text>
<text x="336.5" y="19.27" font-size="15" fill="#bfc2ca" stroke="#bfc2ca" stroke-width="0" textLength="30" lengthAdjust="spacingAndGlyphs">高値</text>
<text x="368" y="19.27" font-size="15" fill="#1e9a91" stroke="#1e9a91" stroke-width="0.5" textLength="54.6" lengthAdjust="spacingAndGlyphs">3713190</text>
<text x="430.3" y="19.27" font-size="15" fill="#bfc2ca" stroke="#bfc2ca" stroke-width="0" textLength="30" lengthAdjust="spacingAndGlyphs">安値</text>
<text x="461.8" y="19.27" font-size="15" fill="#1e9a91" stroke="#1e9a91" stroke-width="0.5" textLength="54.6" lengthAdjust="spacingAndGlyphs">3679186</text>
<text x="524.1" y="19.27" font-size="15" fill="#bfc2ca" stroke="#bfc2ca" stroke-width="0" textLength="30" lengthAdjust="spacingAndGlyphs">終値</text>
<text x="555.6" y="19.27" font-size="15" fill="#1e9a91" stroke="#1e9a91" stroke-width="0.5" textLength="54.6" lengthAdjust="spacingAndGlyphs">3704815</text>
<text x="618.3" y="19.27" font-size="15" fill="#1e9a91" stroke="#1e9a91" stroke-width="0.5" textLength="108.5" lengthAdjust="spacingAndGlyphs">+13445 (+0.36%)</text>
<text x="2.95" y="48.99" font-size="15.7" fill="#cfd2d9" stroke="#cfd2d9" stroke-width="0.5" textLength="49.8" lengthAdjust="spacingAndGlyphs">Volume</text>
<text x="61.7" y="48.99" font-size="15.7" fill="#1e9a91" stroke="#1e9a91" stroke-width="0.5" textLength="16.8" lengthAdjust="spacingAndGlyphs">20</text>
<text x="2.95" y="76.89" font-size="15.7" fill="#cfd2d9" stroke="#cfd2d9" stroke-width="0.5" textLength="100.6" lengthAdjust="spacingAndGlyphs">EMA 14 close 0</text>
<text x="112.2" y="76.89" font-size="15.7" fill="#2f8fea" stroke="#2f8fea" stroke-width="0.5" textLength="93.3" lengthAdjust="spacingAndGlyphs">3666984.8704</text>
<text x="2.95" y="104.79" font-size="15.7" fill="#cfd2d9" stroke="#cfd2d9" stroke-width="0.5" textLength="100.6" lengthAdjust="spacingAndGlyphs">EMA 53 close 0</text>
<text x="112.2" y="104.79" font-size="15.7" fill="#f3df3a" stroke="#f3df3a" stroke-width="0.5" textLength="93.3" lengthAdjust="spacingAndGlyphs">3356740.0769</text>
<text x="2.95" y="132.29" font-size="15.7" fill="#cfd2d9" stroke="#cfd2d9" stroke-width="0.5" textLength="135" lengthAdjust="spacingAndGlyphs">Ichimoku 9 26 52 26</text>
<text x="147.7" y="132.29" font-size="15.7" fill="#3f9e44" stroke="#3f9e44" stroke-width="0.5" textLength="92.8" lengthAdjust="spacingAndGlyphs">3704815.0000</text>
<text x="246.7" y="132.29" font-size="15.7" fill="#a6d4a8" stroke="#a6d4a8" stroke-width="0.5" textLength="92.8" lengthAdjust="spacingAndGlyphs">2997212.5000</text>
<text x="345.7" y="132.29" font-size="15.7" fill="#e89a9a" stroke="#e89a9a" stroke-width="0.5" textLength="93.8" lengthAdjust="spacingAndGlyphs">3018328.0000</text>
<text x="2.9" y="270.79" font-size="15.7" fill="#cfd2d9" stroke="#cfd2d9" stroke-width="0.5" textLength="43.4" lengthAdjust="spacingAndGlyphs">CCI 20</text>
<text x="55.9" y="270.79" font-size="15.7" fill="#c8b94b" stroke="#c8b94b" stroke-width="0.5" textLength="52.5" lengthAdjust="spacingAndGlyphs">39.1049</text>
<text x="2.9" y="457.89" font-size="15.7" fill="#cfd2d9" stroke="#cfd2d9" stroke-width="0.5" textLength="53.3" lengthAdjust="spacingAndGlyphs">Fisher 9</text>
<text x="66.2" y="457.89" font-size="15.7" fill="#2f8fea" stroke="#2f8fea" stroke-width="0.5" textLength="45.1" lengthAdjust="spacingAndGlyphs">1.1098</text>
<text x="118.4" y="457.89" font-size="15.7" fill="#e0700d" stroke="#e0700d" stroke-width="0.5" textLength="45.1" lengthAdjust="spacingAndGlyphs">1.3023</text>
<text x="2.9" y="612.89" font-size="15.7" fill="#cfd2d9" stroke="#cfd2d9" stroke-width="0.5" textLength="130.6" lengthAdjust="spacingAndGlyphs">MACD 12 26 close 9</text>
<text x="143" y="612.89" font-size="15.7" fill="#f05555" stroke="#f05555" stroke-width="0.5" textLength="84.8" lengthAdjust="spacingAndGlyphs">−11546.5182</text>
<text x="235.4" y="612.89" font-size="15.7" fill="#2f8fea" stroke="#2f8fea" stroke-width="0.5" textLength="83.8" lengthAdjust="spacingAndGlyphs">129271.2838</text>
<text x="327.2" y="612.89" font-size="15.7" fill="#e0700d" stroke="#e0700d" stroke-width="0.5" textLength="83.8" lengthAdjust="spacingAndGlyphs">140817.8019</text>
<text x="2.8" y="775.39" font-size="15.7" fill="#cfd2d9" stroke="#cfd2d9" stroke-width="0.5" textLength="68.2" lengthAdjust="spacingAndGlyphs">ADX 14 14</text>
<text x="80.8" y="775.39" font-size="15.7" fill="#e5534b" stroke="#e5534b" stroke-width="0.5" textLength="52.6" lengthAdjust="spacingAndGlyphs">34.1864</text>
<rect x="4.4" y="143.8" width="32.5" height="22.5" rx="3" fill="#1b1f2c" fill-opacity="0.6" stroke="#363a46" stroke-width="1.1"/>
<polyline points="15.6,157.6 20.2,153 24.8,157.6" fill="none" stroke="#d5d7dd" stroke-width="1.8" stroke-linecap="round" stroke-linejoin="round"/>
<rect x="0" y="244.25" width="1600" height="1.5" fill="#2f3341"/>
<rect x="0" y="432.15" width="1600" height="1.5" fill="#2f3341"/>
<rect x="0" y="586.65" width="1600" height="1.5" fill="#2f3341"/>
<rect x="0" y="748.95" width="1600" height="1.5" fill="#2f3341"/>
<rect x="0" y="916.75" width="1600" height="1.5" fill="#2f3341"/>
<rect x="1501.15" y="0" width="1.3" height="947" fill="#2f3341"/>
<rect x="1502.4" y="2.3" width="4" height="1.2" fill="#2f3341"/>
<text x="1511.8" y="8.6" font-size="14.4" fill="#cfd2d9" stroke="#cfd2d9" stroke-width="0.5" textLength="51.52" lengthAdjust="spacingAndGlyphs">4000000</text>
<rect x="1502.4" y="53.2" width="4" height="1.2" fill="#2f3341"/>
<text x="1511.8" y="59.5" font-size="14.4" fill="#cfd2d9" stroke="#cfd2d9" stroke-width="0.5" textLength="51.52" lengthAdjust="spacingAndGlyphs">3600000</text>
<rect x="1502.4" y="103.8" width="4" height="1.2" fill="#2f3341"/>
<text x="1511.8" y="110.1" font-size="14.4" fill="#cfd2d9" stroke="#cfd2d9" stroke-width="0.5" textLength="51.52" lengthAdjust="spacingAndGlyphs">3200000</text>
<rect x="1502.4" y="154.2" width="4" height="1.2" fill="#2f3341"/>
<text x="1511.8" y="160.5" font-size="14.4" fill="#cfd2d9" stroke="#cfd2d9" stroke-width="0.5" textLength="51.52" lengthAdjust="spacingAndGlyphs">2800000</text>
<rect x="1502.4" y="204.9" width="4" height="1.2" fill="#2f3341"/>
<text x="1511.8" y="211.2" font-size="14.4" fill="#cfd2d9" stroke="#cfd2d9" stroke-width="0.5" textLength="51.52" lengthAdjust="spacingAndGlyphs">2400000</text>
<rect x="1502.4" y="266.1" width="4" height="1.2" fill="#2f3341"/>
<text x="1511.8" y="272.4" font-size="14.4" fill="#cfd2d9" stroke="#cfd2d9" stroke-width="0.5" textLength="56.72" lengthAdjust="spacingAndGlyphs">200.0000</text>
<rect x="1502.4" y="331.5" width="4" height="1.2" fill="#2f3341"/>
<text x="1511.8" y="337.8" font-size="14.4" fill="#cfd2d9" stroke="#cfd2d9" stroke-width="0.5" textLength="42" lengthAdjust="spacingAndGlyphs">0.0000</text>
<rect x="1502.4" y="398.1" width="4" height="1.2" fill="#2f3341"/>
<text x="1511.8" y="404.4" font-size="14.4" fill="#cfd2d9" stroke="#cfd2d9" stroke-width="0.5" textLength="64.22" lengthAdjust="spacingAndGlyphs">−200.0000</text>
<g clip-path="url(#cf)">
<rect x="1502.4" y="435.7" width="4" height="1.2" fill="#2f3341"/>
<text x="1511.8" y="442" font-size="14.4" fill="#cfd2d9" stroke="#cfd2d9" stroke-width="0.5" textLength="42" lengthAdjust="spacingAndGlyphs">8.0000</text>
<rect x="1502.4" y="485.6" width="4" height="1.2" fill="#2f3341"/>
<text x="1511.8" y="491.9" font-size="14.4" fill="#cfd2d9" stroke="#cfd2d9" stroke-width="0.5" textLength="42" lengthAdjust="spacingAndGlyphs">4.0000</text>
<rect x="1502.4" y="534.8" width="4" height="1.2" fill="#2f3341"/>
<text x="1511.8" y="541.1" font-size="14.4" fill="#cfd2d9" stroke="#cfd2d9" stroke-width="0.5" textLength="42" lengthAdjust="spacingAndGlyphs">0.0000</text>
<rect x="1502.4" y="582.9" width="4" height="1.2" fill="#2f3341"/>
<text x="1511.8" y="589.2" font-size="14.4" fill="#cfd2d9" stroke="#cfd2d9" stroke-width="0.5" textLength="49.5" lengthAdjust="spacingAndGlyphs">−4.0000</text>
</g>
<rect x="1502.4" y="592.9" width="4" height="1.2" fill="#2f3341"/>
<text x="1511.8" y="599.2" font-size="14.4" fill="#cfd2d9" stroke="#cfd2d9" stroke-width="0.5" textLength="78.8" lengthAdjust="spacingAndGlyphs">200000.0000</text>
<rect x="1502.4" y="647.9" width="4" height="1.2" fill="#2f3341"/>
<text x="1511.8" y="654.2" font-size="14.4" fill="#cfd2d9" stroke="#cfd2d9" stroke-width="0.5" textLength="78.8" lengthAdjust="spacingAndGlyphs">100000.0000</text>
<rect x="1502.4" y="701.9" width="4" height="1.2" fill="#2f3341"/>
<text x="1511.8" y="708.2" font-size="14.4" fill="#cfd2d9" stroke="#cfd2d9" stroke-width="0.5" textLength="42" lengthAdjust="spacingAndGlyphs">0.0000</text>
<rect x="1502.4" y="784.1" width="4" height="1.2" fill="#2f3341"/>
<text x="1511.8" y="790.4" font-size="14.4" fill="#cfd2d9" stroke="#cfd2d9" stroke-width="0.5" textLength="49.36" lengthAdjust="spacingAndGlyphs">60.0000</text>
<rect x="1502.4" y="852.1" width="4" height="1.2" fill="#2f3341"/>
<text x="1511.8" y="858.4" font-size="14.4" fill="#cfd2d9" stroke="#cfd2d9" stroke-width="0.5" textLength="49.36" lengthAdjust="spacingAndGlyphs">40.0000</text>
<rect x="1501" y="29" width="72.4" height="21" fill="#0f9d8e"/>
<rect x="1501" y="38.9" width="5" height="1.2" fill="#d9f2ef"/>
<text x="1511.8" y="45" font-size="14.4" fill="#f2fbfa" stroke="#f2fbfa" stroke-width="0.5" textLength="51.5" lengthAdjust="spacingAndGlyphs">3704815</text>
<rect x="51.6" y="918" width="1.2" height="3.2" fill="#3f4452"/>
<text x="52.2" y="939.7" font-size="14.4" fill="#cfd2d9" stroke="#cfd2d9" stroke-width="0.5" font-weight="bold" text-anchor="middle">2月</text>
<rect x="222.1" y="918" width="1.2" height="3.2" fill="#3f4452"/>
<text x="222.7" y="939.7" font-size="14.4" fill="#cfd2d9" stroke="#cfd2d9" stroke-width="0.5" text-anchor="middle">13</text>
<rect x="321.55" y="918" width="1.2" height="3.2" fill="#3f4452"/>
<text x="322.15" y="939.7" font-size="14.4" fill="#cfd2d9" stroke="#cfd2d9" stroke-width="0.5" text-anchor="middle">20</text>
<rect x="449.42" y="918" width="1.2" height="3.2" fill="#3f4452"/>
<text x="450.02" y="939.7" font-size="14.4" fill="#cfd2d9" stroke="#cfd2d9" stroke-width="0.5" font-weight="bold" text-anchor="middle">3月</text>
<rect x="619.92" y="918" width="1.2" height="3.2" fill="#3f4452"/>
<text x="620.52" y="939.7" font-size="14.4" fill="#cfd2d9" stroke="#cfd2d9" stroke-width="0.5" text-anchor="middle">13</text>
<rect x="719.38" y="918" width="1.2" height="3.2" fill="#3f4452"/>
<text x="719.98" y="939.7" font-size="14.4" fill="#cfd2d9" stroke="#cfd2d9" stroke-width="0.5" text-anchor="middle">20</text>
<rect x="889.87" y="918" width="1.2" height="3.2" fill="#3f4452"/>
<text x="890.47" y="939.7" font-size="14.4" fill="#cfd2d9" stroke="#cfd2d9" stroke-width="0.5" font-weight="bold" text-anchor="middle">4月</text>
<rect x="1017.74" y="918" width="1.2" height="3.2" fill="#3f4452"/>
<text x="1018.34" y="939.7" font-size="14.4" fill="#cfd2d9" stroke="#cfd2d9" stroke-width="0.5" text-anchor="middle">10</text>
<rect x="1117.2" y="918" width="1.2" height="3.2" fill="#3f4452"/>
<text x="1117.8" y="939.7" font-size="14.4" fill="#cfd2d9" stroke="#cfd2d9" stroke-width="0.5" text-anchor="middle">17</text>
<rect x="1216.66" y="918" width="1.2" height="3.2" fill="#3f4452"/>
<text x="1217.26" y="939.7" font-size="14.4" fill="#cfd2d9" stroke="#cfd2d9" stroke-width="0.5" text-anchor="middle">24</text>
<rect x="1316.11" y="918" width="1.2" height="3.2" fill="#3f4452"/>
<text x="1316.71" y="939.7" font-size="14.4" fill="#cfd2d9" stroke="#cfd2d9" stroke-width="0.5" font-weight="bold" text-anchor="middle">5月</text>
<rect x="1415.57" y="918" width="1.2" height="3.2" fill="#3f4452"/>
<text x="1416.17" y="939.7" font-size="14.4" fill="#cfd2d9" stroke="#cfd2d9" stroke-width="0.5" text-anchor="middle">8</text>
<g transform="translate(1551.2 934.6)" stroke="#9598a1" fill="none" stroke-width="1.2"><circle r="5.6"/><line x1="0" y1="-5.6" x2="0" y2="-8.4" transform="rotate(0)"/><line x1="0" y1="-5.6" x2="0" y2="-8.4" transform="rotate(45)"/><line x1="0" y1="-5.6" x2="0" y2="-8.4" transform="rotate(90)"/><line x1="0" y1="-5.6" x2="0" y2="-8.4" transform="rotate(135)"/><line x1="0" y1="-5.6" x2="0" y2="-8.4" transform="rotate(180)"/><line x1="0" y1="-5.6" x2="0" y2="-8.4" transform="rotate(225)"/><line x1="0" y1="-5.6" x2="0" y2="-8.4" transform="rotate(270)"/><line x1="0" y1="-5.6" x2="0" y2="-8.4" transform="rotate(315)"/></g>
<circle cx="20.2" cy="890.3" r="18.8" fill="#2d313d"/>
<path fill="#2a9ff0" d="M11.3 897.3a4.3 4.3 0 0 1-.6-8.5a7.2 7.2 0 0 1 13.6-3a5 5 0 0 1 5.6 3.5a4.1 4.1 0 0 1-.5 8z"/>
<polyline fill="none" stroke="#232836" stroke-width="1.45" stroke-linejoin="round" points="7.9,894.2 17.3,887.3 23.3,893.4 30.4,886.6"/>
<circle cx="17.3" cy="887.4" r="1.65" fill="#232836"/><circle cx="23.3" cy="893.4" r="1.65" fill="#232836"/>
</svg></body></html>
